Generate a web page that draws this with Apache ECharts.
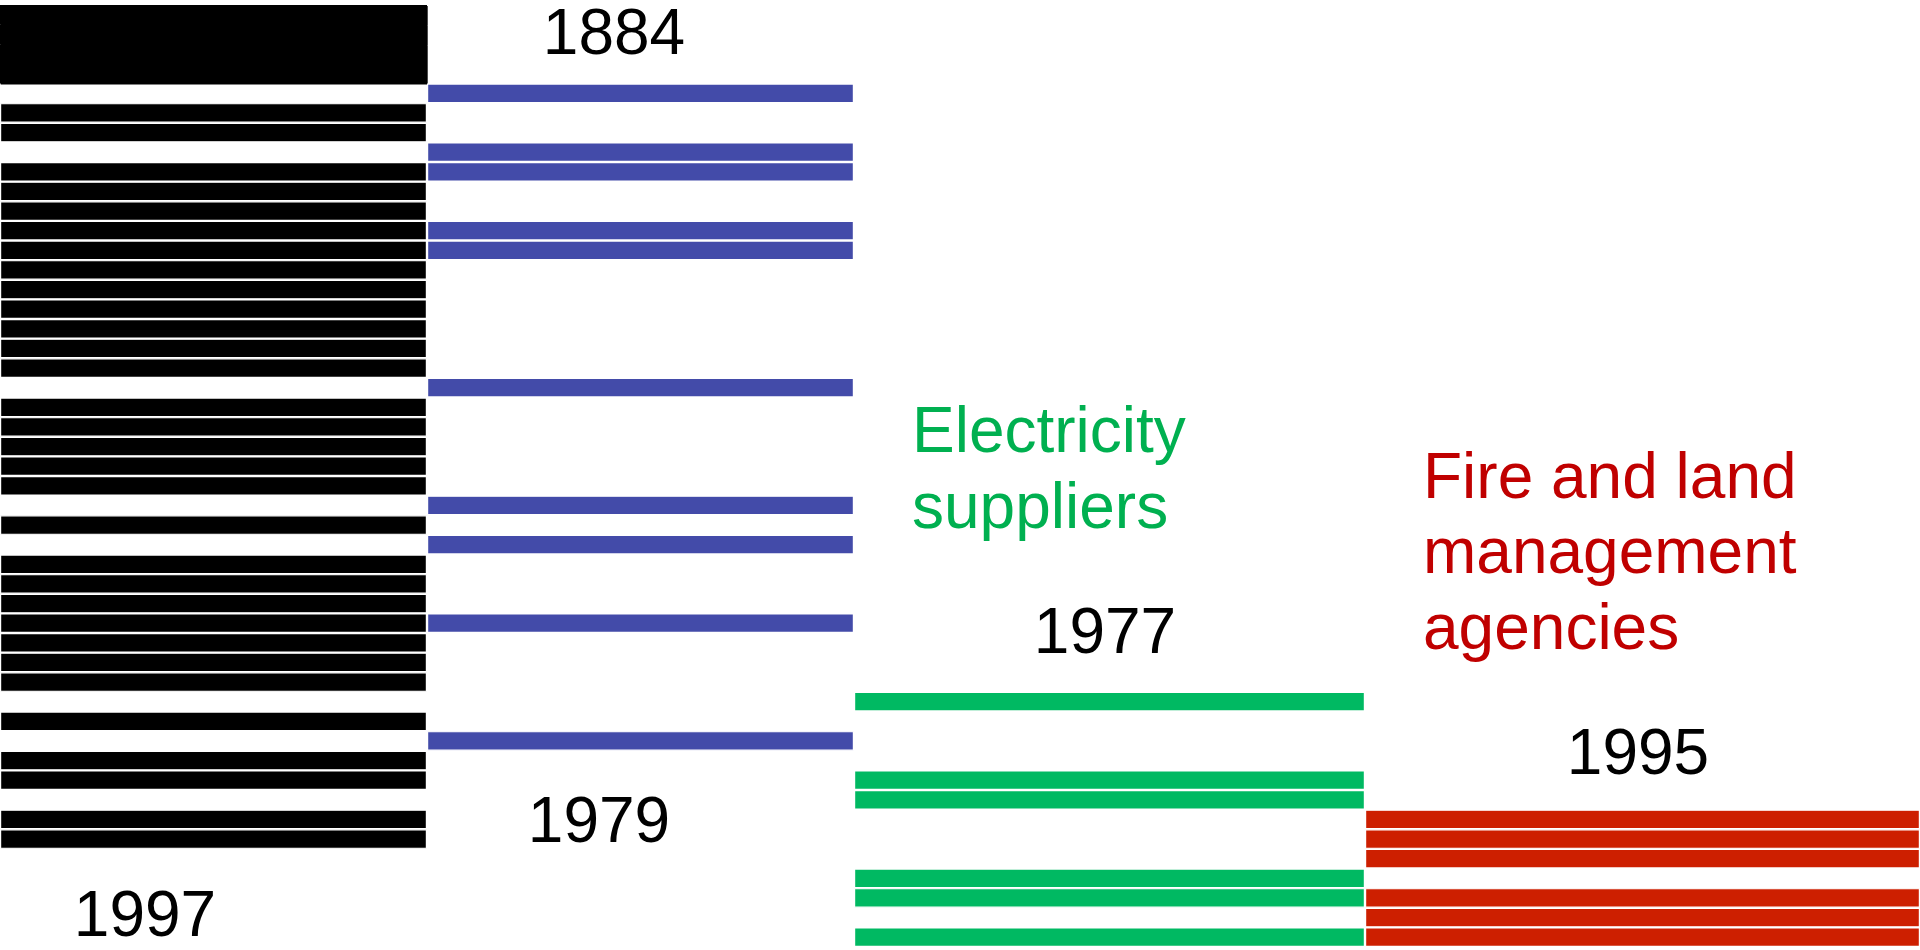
<!DOCTYPE html>
<html>
<head>
<meta charset="utf-8">
<script src="https://cdn.jsdelivr.net/npm/echarts@6/dist/echarts.min.js"></script>
<style>
html,body{margin:0;padding:0;background:#ffffff;}
#chart{width:1920px;height:950px;}
</style>
</head>
<body>
<div id="chart"></div>
<script>
// ---- data ----
const rowLabels = Array.from({length: 48}, (_, i) => 'Row ' + (i + 1));
const groupNames = ['Group 1', 'Group 2', 'Electricity suppliers', 'Fire and land management agencies'];
const groupSpan = [427, 427, 511, 555];
const groupA = [1,1,1,1,0,1,1,0,1,1,1,1,1,1,1,1,1,1,1,0,1,1,1,1,1,0,1,0,1,1,1,1,1,1,1,0,1,0,1,1,0,1,1,0,0,0,0,0];
const groupB = [0,0,0,0,1,0,0,1,1,0,0,1,1,0,0,0,0,0,0,1,0,0,0,0,0,1,0,1,0,0,0,1,0,0,0,0,0,1,0,0,0,0,0,0,0,0,0,0];
const groupC = [0,0,0,0,0,0,0,0,0,0,0,0,0,0,0,0,0,0,0,0,0,0,0,0,0,0,0,0,0,0,0,0,0,0,0,1,0,0,0,1,1,0,0,0,1,1,0,1];
const groupD = [0,0,0,0,0,0,0,0,0,0,0,0,0,0,0,0,0,0,0,0,0,0,0,0,0,0,0,0,0,0,0,0,0,0,0,0,0,0,0,0,0,1,1,1,0,1,1,1];
const yearLabels = ['1997', '1884', '1979', '1977', '1995'];
const groupTitles = ['Electricity\nsuppliers', 'Fire and land\nmanagement\nagencies'];

// ---- styles ----
const colors = ['#000000', '#434BA9', '#00B962', '#CD1F00'];
const presence = [groupA, groupB, groupC, groupD];
const FONT = '"Liberation Sans", Arial, Helvetica, sans-serif';
const FONT_SIZE = 64;
const mergedTopRows = 4;

const chart = echarts.init(document.getElementById('chart'), null, {renderer: 'canvas'});

const series = presence.map((arr, g) => ({
  name: groupNames[g],
  type: 'bar',
  stack: 'rows',
  barWidth: '100%',
  barCategoryGap: '0%',
  silent: true,
  data: arr.map((p, i) => ({
    value: groupSpan[g],
    itemStyle: p
      ? (g === 0 && i < mergedTopRows
          ? {color: colors[g], borderWidth: 0, shadowColor: '#000000', shadowBlur: 0, shadowOffsetX: 0.7, shadowOffsetY: 1}
          : {color: colors[g], borderColor: '#ffffff', borderWidth: 1.2})
      : {color: 'rgba(0,0,0,0)', borderWidth: 0}
  }))
}));

function yearText(t, x, y) {
  return {
    type: 'text', x: x, y: y, silent: true,
    style: {
      text: t, fill: '#000000',
      font: FONT_SIZE + 'px ' + FONT,
      align: 'center', textAlign: 'center',
      verticalAlign: 'middle', textVerticalAlign: 'middle'
    }
  };
}
function titleText(t, x, y, color) {
  return {
    type: 'text', x: x, y: y, silent: true,
    style: {
      text: t, fill: color,
      font: FONT_SIZE + 'px ' + FONT,
      lineHeight: 75.5,
      align: 'left', textAlign: 'left',
      verticalAlign: 'top', textVerticalAlign: 'top'
    }
  };
}

chart.setOption({
  animation: false,
  backgroundColor: '#ffffff',
  grid: {left: 0, right: 0, top: 5, bottom: 3, containLabel: false},
  xAxis: {type: 'value', min: 0, max: 1920, show: false},
  yAxis: {type: 'category', data: rowLabels, inverse: true, show: false},
  series: series,
  graphic: [
    yearText(yearLabels[0], 145, 918.5),
    yearText(yearLabels[1], 614, 36.5),
    yearText(yearLabels[2], 599, 824.5),
    yearText(yearLabels[3], 1105, 635.5),
    yearText(yearLabels[4], 1638, 756.5),
    titleText(groupTitles[0], 912, 397, '#00B050'),
    titleText(groupTitles[1], 1423, 442.5, '#C00000')
  ]
});
</script>
</body>
</html>
